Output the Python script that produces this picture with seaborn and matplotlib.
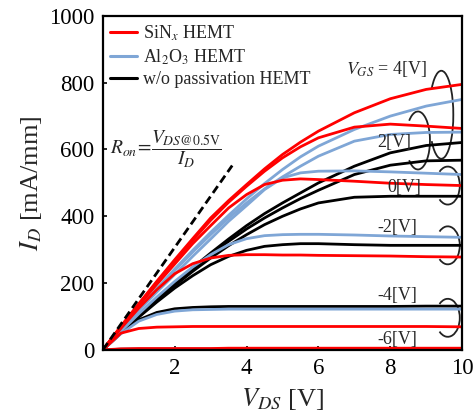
import numpy as np
import pandas as pd
import seaborn as sns
import matplotlib.pyplot as plt
from matplotlib.patches import Arc
from matplotlib.lines import Line2D
from matplotlib.transforms import ScaledTranslation

# drain voltage grid (V)
vds = [0, 0.5, 1, 1.5, 2, 2.5, 3, 3.5, 4, 4.5, 5, 5.5, 6, 7, 8, 9, 10]

# SiNx HEMT, ID (mA/mm) for each VGS
sinx_4 = [0, 70, 138, 205, 270, 333, 395, 447, 495, 542, 585, 622, 655, 710, 752, 780, 795]
sinx_2 = [0, 70, 137, 203, 266, 328, 388, 442, 490, 535, 575, 608, 635, 667, 676, 670, 663]
sinx_0 = [0, 68, 133, 196, 257, 318, 372, 425, 465, 495, 508, 512, 510, 505, 499, 495, 492]
sinx_m2 = [0, 64, 125, 180, 228, 258, 275, 283, 285, 285, 284, 284, 283, 282, 281, 279, 278]
sinx_m4 = [0, 50, 64, 68, 69, 70, 70, 70, 70, 70, 70, 70, 70, 70, 70, 70, 69]
sinx_m6 = [0, 3, 4, 4, 4, 4, 4, 5, 5, 5, 5, 5, 5, 5, 5, 5, 5]

# Al2O3 HEMT
al2o3_4 = [0, 62, 123, 183, 242, 298, 352, 403, 452, 498, 540, 578, 610, 660, 700, 730, 750]
al2o3_2 = [0, 62, 122, 181, 238, 293, 345, 395, 440, 482, 518, 550, 580, 625, 645, 651, 652]
al2o3_0 = [0, 60, 118, 173, 226, 280, 332, 385, 432, 480, 515, 530, 535, 536, 533, 529, 525]
al2o3_m2 = [0, 55, 108, 158, 205, 248, 285, 315, 333, 342, 345, 346, 346, 344, 341, 339, 337]
al2o3_m4 = [0, 48, 86, 106, 116, 120, 121, 122, 122, 122, 122, 122, 122, 122, 122, 122, 122]
al2o3_m6 = [0, 2, 3, 3, 3, 3, 3, 3, 3, 3, 3, 3, 3, 3, 3, 3, 3]

# w/o passivation HEMT
bare_4 = [0, 52, 103, 152, 200, 246, 290, 332, 372, 408, 440, 470, 500, 550, 590, 612, 621]
bare_2 = [0, 52, 102, 150, 197, 242, 285, 325, 362, 395, 425, 453, 478, 525, 553, 566, 568]
bare_0 = [0, 50, 100, 147, 192, 235, 275, 312, 345, 375, 400, 422, 440, 457, 460, 460, 460]
bare_m2 = [0, 50, 98, 143, 185, 222, 255, 280, 298, 310, 315, 318, 318, 315, 313, 313, 313]
bare_m4 = [0, 50, 90, 112, 123, 127, 129, 130, 130, 130, 130, 130, 130, 130, 130, 131, 131]
bare_m6 = [0, 2, 2, 2, 2, 2, 2, 2, 2, 2, 2, 2, 2, 2, 2, 2, 2]

vgs = [4, 2, 0, -2, -4, -6]

# Ron guide line
ron_v = [0, 3.6]
ron_i = [0, 552]

devices = {
    'SiN$_x$ HEMT': [sinx_4, sinx_2, sinx_0, sinx_m2, sinx_m4, sinx_m6],
    'Al$_2$O$_3$ HEMT': [al2o3_4, al2o3_2, al2o3_0, al2o3_m2, al2o3_m4, al2o3_m6],
    'w/o passivation HEMT': [bare_4, bare_2, bare_0, bare_m2, bare_m4, bare_m6],
}
colors = {'SiN$_x$ HEMT': '#ff0000', 'Al$_2$O$_3$ HEMT': '#7fa6d6',
          'w/o passivation HEMT': '#000000'}

rows = []
for name, curves in devices.items():
    for vg, cur in zip(vgs, curves):
        for v, i in zip(vds, cur):
            rows.append((name, vg, v, i))
df = pd.DataFrame(rows, columns=['device', 'vgs', 'vds', 'id'])

sns.set_style('ticks')
plt.rcParams['font.family'] = ['Liberation Serif', 'DejaVu Serif']
plt.rcParams['mathtext.fontset'] = 'stix'

fig = plt.figure(figsize=(4.74, 4.19), dpi=100)
ax = fig.add_axes([0.217, 0.165, 0.758, 0.797])

for name in ['w/o passivation HEMT', 'Al$_2$O$_3$ HEMT', 'SiN$_x$ HEMT']:
    sns.lineplot(data=df[df.device == name], x='vds', y='id', units='vgs',
                 estimator=None, color=colors[name], lw=2, ax=ax, legend=False)

sns.lineplot(x=ron_v, y=ron_i, color='black', lw=2, ax=ax)
ax.lines[-1].set_linestyle((0, (3, 1.6)))

ax.set_xlim(0, 10)
ax.set_ylim(0, 1000)
ax.set_xticks([0, 2, 4, 6, 8, 10])
ax.set_xticklabels(['', '2', '4', '6', '8', '10'])
ax.set_yticks([0, 200, 400, 600, 800, 1000])
ax.tick_params(direction='in', length=3, width=1.2, labelsize=16.5, pad=6, colors='black')
for s in ax.spines.values():
    s.set_linewidth(1.6)
    s.set_color('black')

ax.set_xlabel('$V_{DS}$ [V]', fontsize=19, labelpad=5)
ax.set_ylabel('$I_D$ [mA/mm]', fontsize=19, labelpad=4)

handles = [Line2D([], [], color=colors[n], lw=2.2) for n in devices]
ax.legend(handles, list(devices), loc='upper left', bbox_to_anchor=(-0.01, 1.01),
          frameon=False, fontsize=13, handlelength=1.5, handletextpad=0.3,
          labelspacing=0.25, borderaxespad=0.2)

ax.text(1.75, 600, r'$R_{on}\!=\!\dfrac{V_{DS@0.5\mathrm{V}}}{I_D}$', fontsize=14,
        ha='center', va='center')

ax.text(7.9, 842, '$V_{GS}$ = 4[V]', fontsize=13, ha='center', va='center')
ax.text(8.1, 621, '2[V]', fontsize=13, ha='center', va='center')
ax.text(8.4, 487, '0[V]', fontsize=13, ha='center', va='center')
ax.text(8.2, 367, '-2[V]', fontsize=13, ha='center', va='center')
ax.text(8.2, 164, '-4[V]', fontsize=13, ha='center', va='center')
ax.text(8.2, 32, '-6[V]', fontsize=13, ha='center', va='center')

# bracket arcs, sized in inches and anchored at a data point
for cx, cy, h, th in [(9.42, 704, 0.88, 110), (8.77, 627, 0.58, 114),
                      (9.6, 492, 0.38, 121), (9.6, 313, 0.38, 121), (9.6, 96, 0.38, 121)]:
    trans = fig.dpi_scale_trans + ScaledTranslation(cx, cy, ax.transData)
    ax.add_patch(Arc((0, 0), 0.24, h, theta1=-th, theta2=th, transform=trans,
                     color='#222222', lw=1.3, clip_on=False))

fig.savefig('out.png', dpi=100)
